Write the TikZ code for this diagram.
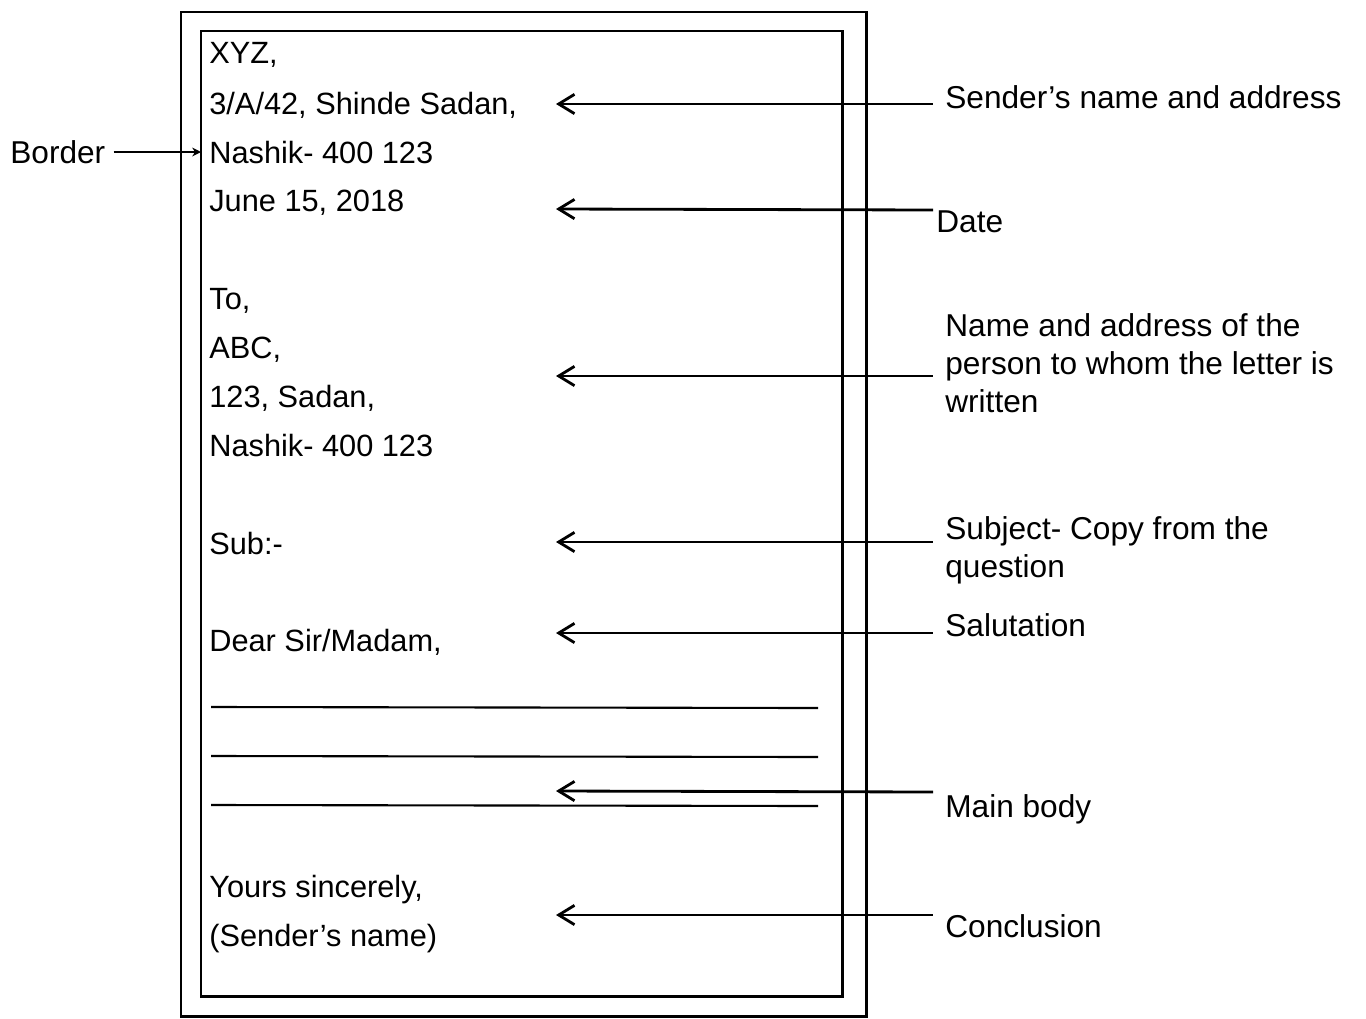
\documentclass[tikz,border=0pt]{standalone}
\usepackage{fontspec}
\setmainfont{Liberation Sans}
\usetikzlibrary{arrows.meta,positioning}

\begin{document}
\begin{tikzpicture}[
    x=0.02cm, y=-0.02cm,
    linha/.style={anchor=base west, inner sep=0pt,
        font=\fontsize{17.5}{21}\selectfont},
    rotulo/.style={anchor=base west, inner sep=0pt,
        font=\fontsize{18}{21.6}\selectfont},
    rotulobloco/.style={rotulo, anchor=north west, align=left},
    moldura/.style={draw, line width=1.7pt},
    pauta/.style={line width=1.2pt},
    seta/.style={{Straight Barb[length=9pt,width=11pt]}-, line width=1.6pt},
    setaborda/.style={-{Stealth[length=5pt,width=5pt]}, line width=1.4pt}
]
\useasboundingbox (0,0) rectangle (1366,1018);

% Moldura
\draw[moldura] (181,12) rectangle (866,1016);
\draw[moldura] (201,31) rectangle (842,996);

% Texto da carta
\node[linha] (xyz) at (209,63) {XYZ,};
\node[linha] (endA) at (209,114) {3/A/42, Shinde Sadan,};
\node[linha] (endB) at (209,163) {Nashik- 400 123};
\node[linha] (data) at (209,211) {June 15, 2018};
\node[linha] (para) at (209,309) {To,};
\node[linha] (abc) at (209,358) {ABC,};
\node[linha] (destA) at (209,407) {123, Sadan,};
\node[linha] (destB) at (209,456) {Nashik- 400 123};
\node[linha] (assunto) at (209,554) {Sub:-};
\node[linha] (saudacao) at (209,651) {Dear Sir/Madam,};
\node[linha] (despedida) at (209,897) {Yours sincerely,};
\node[linha] (nome) at (209,946) {(Sender's name)};

% Linhas do corpo
\coordinate (cA1) at (211,707); \coordinate (cA2) at (818,708);
\coordinate (cB1) at (211,756); \coordinate (cB2) at (818,757);
\coordinate (cC1) at (211,805); \coordinate (cC2) at (818,806);
\draw[pauta] (cA1) -- (cA2);
\draw[pauta] (cB1) -- (cB2);
\draw[pauta] (cC1) -- (cC2);

% Rótulos
\node[rotulo] (lborda) at (10,163) {Border};
\node[rotulo] (lremetente) at (945,108) {Sender's name and address};
\node[rotulo] (ldata) at (936,232) {Date};
\node[rotulobloco] (ldestino) at (945,313) {Name and address of the\\person to whom the letter is\\written};
\node[rotulobloco] (lassunto) at (945,516) {Subject- Copy from the\\question};
\node[rotulo] (lsaudacao) at (945,636) {Salutation};
\node[rotulo] (lcorpo) at (945,817) {Main body};
\node[rotulo] (lfecho) at (945,937) {Conclusion};

% Pontos das setas
\coordinate (pRem) at (556,104);  \coordinate (qRem) at (933,104);
\coordinate (pData) at (556,209); \coordinate (qData) at (933,210);
\coordinate (pDest) at (556,376); \coordinate (qDest) at (933,376);
\coordinate (pAss) at (556,542);  \coordinate (qAss) at (933,542);
\coordinate (pSau) at (556,633);  \coordinate (qSau) at (933,633);
\coordinate (pCorpo) at (556,791); \coordinate (qCorpo) at (933,792);
\coordinate (pFecho) at (556,915); \coordinate (qFecho) at (933,915);
\coordinate (pBorda) at (201,152);

% Setas
\draw[seta] (pRem) -- (qRem);
\draw[seta] (pData) -- (qData);
\draw[seta] (pDest) -- (qDest);
\draw[seta] (pAss) -- (qAss);
\draw[seta] (pSau) -- (qSau);
\draw[seta] (pCorpo) -- (qCorpo);
\draw[seta] (pFecho) -- (qFecho);
\draw[setaborda] (lborda.east |- pBorda) ++(8,0) -- (pBorda);

\end{tikzpicture}
\end{document}
